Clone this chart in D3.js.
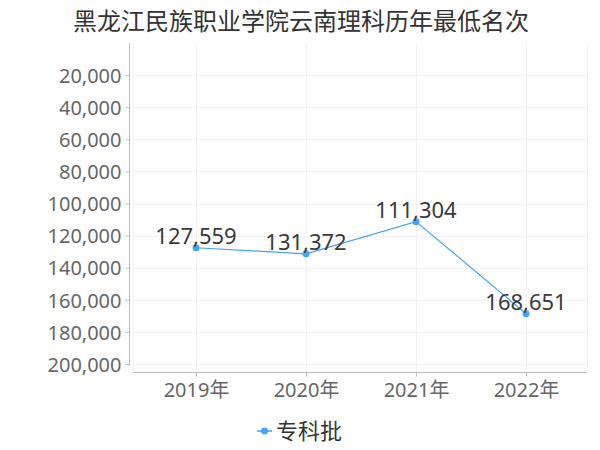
<!DOCTYPE html>
<html>
<head>
<meta charset="utf-8">
<script src="https://cdn.jsdelivr.net/npm/d3@7"></script>
<style>
  body { margin: 0; background: #fff; }
  text { font-family: "Noto Sans", "Noto Sans CJK SC", sans-serif; }
</style>
</head>
<body>
<div id="plot"></div>
<script>
// chart data
const years = ["2019年", "2020年", "2021年", "2022年"];
const ranks = [127559, 131372, 111304, 168651];
const yTicks = [20000, 40000, 60000, 80000, 100000, 120000, 140000, 160000, 180000, 200000];
const seriesName = "专科批";
const title = "黑龙江民族职业学院云南理科历年最低名次";

const W = 600, H = 450;
const lineColor = "#44a3fb";

const svg = d3.select("div#plot")
  .append("svg")
  .attr("width", W)
  .attr("height", H);

// scales
const x = d3.scalePoint().domain(years).range([141, 581]).padding(0.5);
const y = d3.scaleLinear().domain([0, 200000]).range([43, 364]);

// grid
const grid = svg.append("g");
grid.selectAll(".hg")
  .data(yTicks)
  .enter().append("line")
  .attr("x1", 133).attr("x2", 587)
  .attr("y1", d => Math.round(y(d)) + 0.5)
  .attr("y2", d => Math.round(y(d)) + 0.5)
  .attr("stroke", "#f2f2f2");
grid.selectAll(".vg")
  .data(years)
  .enter().append("line")
  .attr("x1", d => Math.round(x(d)) + 0.5)
  .attr("x2", d => Math.round(x(d)) + 0.5)
  .attr("y1", 43).attr("y2", 372)
  .attr("stroke", "#f2f2f2");
[133, 587].forEach(px => {
  grid.append("line")
    .attr("x1", px + 0.5).attr("x2", px + 0.5)
    .attr("y1", 43).attr("y2", 372)
    .attr("stroke", "#f2f2f2");
});

// y axis
const yAxis = svg.append("g")
  .attr("transform", "translate(129.5,0)")
  .call(d3.axisLeft(y).tickValues(yTicks).tickSize(4).tickPadding(4)
    .tickFormat(d3.format(",")));
yAxis.select(".domain").attr("stroke", "#bbb").attr("d", "M0,43V366");
yAxis.selectAll(".tick line").attr("stroke", "#bbb");
yAxis.selectAll(".tick text")
  .attr("fill", "#666")
  .style("font-size", "20px")
  .attr("dy", "0.36em");

// x axis
const xAxis = svg.append("g")
  .attr("transform", "translate(0,372.5)")
  .call(d3.axisBottom(x).tickSize(4).tickPadding(6));
xAxis.select(".domain").attr("stroke", "#bbb").attr("d", "M133,0H587");
xAxis.selectAll(".tick line").attr("stroke", "#bbb");
xAxis.selectAll(".tick text")
  .attr("fill", "#666")
  .style("font-size", "20px");

// line
const pts = years.map((yr, i) => ({ yr, v: ranks[i] }));
svg.append("path")
  .datum(pts)
  .attr("fill", "none")
  .attr("stroke", lineColor)
  .attr("stroke-width", 1.2)
  .attr("d", d3.line().x(d => x(d.yr)).y(d => y(d.v)));

svg.selectAll(".dot")
  .data(pts)
  .enter().append("circle")
  .attr("cx", d => x(d.yr))
  .attr("cy", d => y(d.v))
  .attr("r", 3.5)
  .attr("fill", lineColor);

svg.selectAll(".lbl")
  .data(pts)
  .enter().append("text")
  .attr("x", d => x(d.yr))
  .attr("y", d => y(d.v) - 4)
  .attr("text-anchor", "middle")
  .attr("fill", "#3a3a3a")
  .style("font-size", "22px")
  .text(d => d3.format(",")(d.v));

// title
svg.append("text")
  .attr("x", 301)
  .attr("y", 30)
  .attr("text-anchor", "middle")
  .attr("fill", "#333")
  .style("font-size", "24px")
  .text(title);

// legend
const lg = svg.append("g").attr("transform", "translate(257,431)");
lg.append("line").attr("x1", 0).attr("x2", 15).attr("y1", 0).attr("y2", 0)
  .attr("stroke", lineColor).attr("stroke-width", 1.5);
lg.append("circle").attr("cx", 7.5).attr("cy", 0).attr("r", 3.5).attr("fill", lineColor);
lg.append("text")
  .attr("x", 19)
  .attr("y", 0)
  .attr("dy", "0.36em")
  .attr("fill", "#333")
  .style("font-size", "22px")
  .text(seriesName);
</script>
</body>
</html>
